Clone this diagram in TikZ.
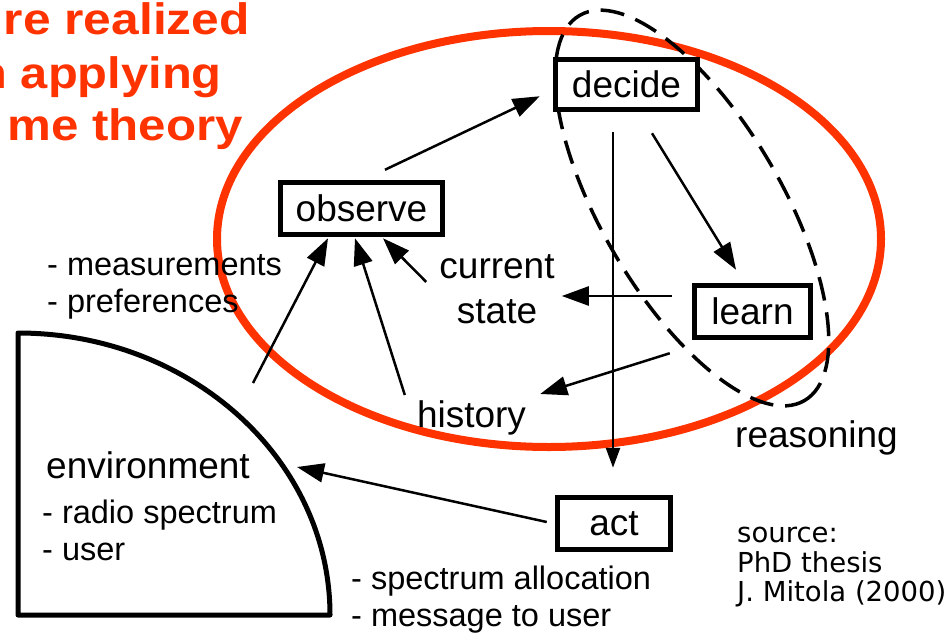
\documentclass[tikz,border=0pt]{standalone}
\usepackage{fontspec}
\usepackage{graphicx}
\setmainfont{Liberation Sans}
\newfontfamily\srcfont{DejaVu Sans}
\usetikzlibrary{arrows.meta,calc}
\definecolor{redc}{RGB}{255,51,0}
\tikzset{
  boxnode/.style={draw=black, line width=5.5pt, fill=white, inner sep=0pt, font=\fontsize{37}{44}\selectfont},
  lbl/.style={inner sep=0pt, font=\fontsize{37}{45}\selectfont},
  lst/.style={inner sep=0pt, anchor=base west, font=\fontsize{32.5}{37}\selectfont},
  srcl/.style={inner sep=0pt, anchor=base west, font=\srcfont\fontsize{27.5}{30}\selectfont},
  ttl/.style={inner sep=0pt, anchor=base east, text=redc, font=\bfseries\fontsize{44}{50}\selectfont},
  arr/.style={line width=2.5pt, -{Triangle[length=27pt,width=19pt]}},
  arrsmall/.style={line width=2.5pt, -{Triangle[length=20pt,width=14pt]}},
  redring/.style={draw=redc, line width=8pt},
  dashring/.style={draw=black, line width=3.5pt, dash pattern=on 24pt off 12pt},
  envline/.style={draw=black, line width=5pt, line join=round}
}
\begin{document}
\begin{tikzpicture}[x=1pt,y=-1pt]
\useasboundingbox (0,0) rectangle (949,634);
\clip (0,0) rectangle (949,634);
\fill[white] (0,0) rectangle (949,634);

% title (red)
\node[ttl] (t1) at (250,35) {\scalebox{1.13}[1]{re realized}};
\node[ttl] (t2) at (222,88) {\scalebox{1.11}[1]{n applying}};
\node[ttl] (t3) at (243,140) {\scalebox{1.12}[1]{me theory}};

% big red ellipse and dashed reasoning ellipse
\draw[redring] (549,239) ellipse [x radius=332pt, y radius=208pt];
\draw[dashring, rotate around={-59.7:(692,208)}] (692,208) ellipse [x radius=223pt, y radius=90pt];

% environment quarter shape
\draw[envline] (18,333) -- (18,615) -- (330,615) arc [start angle=0, end angle=90, x radius=312pt, y radius=282pt] -- cycle;
\coordinate (envtop) at (253,383);
\coordinate (envright) at (297,467);

% boxes
\node[boxnode, minimum width=142pt, minimum height=50pt] (dec) at (626.5,84.5) {decide};
\node[boxnode, minimum width=162pt, minimum height=52pt] (obs) at (361.5,208.5) {observe};
\node[boxnode, minimum width=116pt, minimum height=52pt] (learn) at (752.5,311.5) {learn};
\node[boxnode, minimum width=113pt, minimum height=52pt] (act) at (614,523.5) {act};

% labels
\node[lbl, align=center] (cs) at (497,289) {current\\state};
\node[lbl, anchor=base] (hist) at (471.5,427) {history};
\node[lbl, anchor=base west] (reas) at (735,447) {reasoning};
\node[lbl, anchor=base west] (env) at (46,478) {environment};
\node[lst] (e1) at (42,523) {- radio spectrum};
\node[lst] (e2) at (42,560) {- user};
\node[lst] (m1) at (47,275) {- measurements};
\node[lst] (m2) at (47,312) {- preferences};
\node[lst] (a1) at (351,589) {- spectrum allocation};
\node[lst] (a2) at (351,626) {- message to user};
\node[srcl] (s1) at (737,542) {source:};
\node[srcl] (s2) at (737,572) {PhD thesis};
\node[srcl] (s3) at (737,601) {J. Mitola (2000)};

% connectors
\draw[arr] ([xshift=23.5pt,yshift=10pt]obs.north) -- ([xshift=-13pt,yshift=16pt]dec.south west);
\draw[arr] ([xshift=25.5pt,yshift=-21pt]dec.south) -- ([xshift=-16.5pt,yshift=13pt]learn.north);
\draw[arrsmall] ([xshift=-13.5pt,yshift=-20pt]dec.south) -- ([xshift=-1pt,yshift=27pt]act.north);
\draw[arr] ([xshift=-20pt,yshift=15.5pt]learn.west) -- ([xshift=7pt,yshift=-7pt]cs.east);
\draw[arr] ([xshift=-22pt,yshift=-13pt]learn.south west) -- ([xshift=14pt,yshift=6pt]hist.north east);
\draw[arr] ([xshift=-13pt,yshift=7pt]cs.west) -- ([xshift=21.5pt,yshift=-1pt]obs.south);
\draw[arr] ([xshift=-12pt,yshift=5pt]hist.north west) -- ([xshift=-6.5pt,yshift=-1pt]obs.south);
\draw[arr] (envtop) -- ([xshift=-33.5pt,yshift=-1pt]obs.south);
\draw[arr] ([xshift=-8pt,yshift=1.5pt]act.west) -- (envright);
\end{tikzpicture}
\end{document}
